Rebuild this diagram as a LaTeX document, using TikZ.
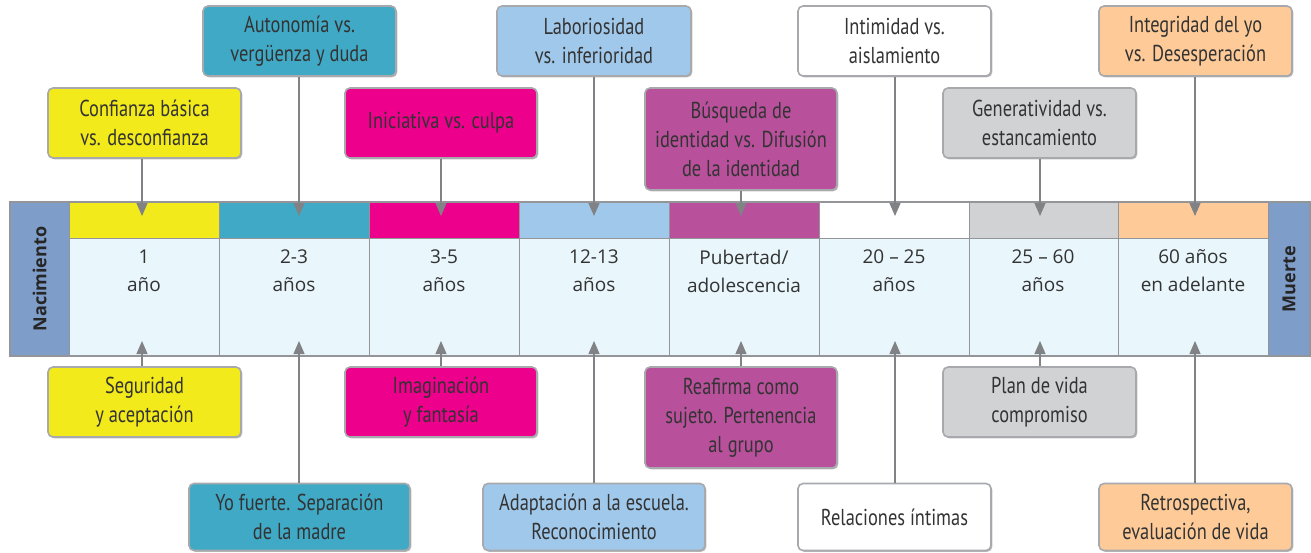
\documentclass[tikz,border=0pt]{standalone}
\usepackage{fontspec}
\setmainfont{PT Sans}
\newfontfamily\boxfont[FakeStretch=0.8]{PT Sans}
\newfontfamily\bandfont{Open Sans}
\usetikzlibrary{arrows.meta,shadows}

\definecolor{yel}{HTML}{F2EA1A}
\definecolor{tea}{HTML}{40A9C6}
\definecolor{mag}{HTML}{EC008C}
\definecolor{lbl}{HTML}{A0C8EA}
\definecolor{pur}{HTML}{B8509B}
\definecolor{gry}{HTML}{D1D2D4}
\definecolor{ora}{HTML}{FECB98}
\definecolor{side}{HTML}{7F9DC9}
\definecolor{bandbg}{HTML}{E9F6FC}
\definecolor{bandline}{HTML}{939598}
\definecolor{boxline}{HTML}{A7A9AC}
\definecolor{arrowgray}{HTML}{808285}
\definecolor{txt}{HTML}{333333}

\tikzset{
  stage/.style={draw=boxline, line width=1.6pt, rounded corners=5pt,
    minimum width=193pt, minimum height=70pt, inner sep=0pt, align=center,
    text=txt, font=\boxfont\fontsize{23}{29}\selectfont,
    drop shadow={shadow xshift=1.3pt, shadow yshift=-1.3pt, fill=black!45, opacity=.6}},
  age/.style={align=center, text=txt, font=\bandfont\fontsize{19}{28}\selectfont},
  endlabel/.style={rotate=90, text=black!85, font=\bandfont\bfseries\fontsize{18}{18}\selectfont},
  link/.style={draw=arrowgray, line width=1.2pt, -{Triangle[length=13pt,width=11pt]}},
}

\begin{document}
\begin{tikzpicture}[x=1pt,y=-1pt]
  \useasboundingbox (0,0) rectangle (1311,552);

  % band
  \fill[bandbg] (69,238) rectangle (1268,356);
  \fill[side] (10,202) rectangle (69,356);
  \fill[side] (1268,202) rectangle (1310,356);
  \fill[yel] (69,202) rectangle (219,238);
  \fill[tea] (219,202) rectangle (369,238);
  \fill[mag] (369,202) rectangle (519,238);
  \fill[lbl] (519,202) rectangle (669,238);
  \fill[pur] (669,202) rectangle (819,238);
  \fill[white] (819,202) rectangle (969,238);
  \fill[gry] (969,202) rectangle (1118,238);
  \fill[ora] (1118,202) rectangle (1268,238);
  \draw[bandline, line width=1pt] (69,238) -- (1268,238);
  \foreach \x in {69,219,369,519,669,819,969,1118,1268}
    \draw[bandline, line width=1pt] (\x,202) -- (\x,356);
  \draw[bandline, line width=1.2pt] (10,202) rectangle (1310,356);

  \node[endlabel] (birth) at (39.5,279) {Nacimiento};
  \node[endlabel] (death) at (1289,279) {Muerte};

  \node[age] (a1) at (144,271) {1\\año};
  \node[age] (a2) at (294,271) {2-3\\años};
  \node[age] (a3) at (444,271) {3-5\\años};
  \node[age] (a4) at (594,271) {12-13\\años};
  \node[age] (a5) at (744,271) {Pubertad/\\adolescencia};
  \node[age] (a6) at (894,271) {20 – 25\\años};
  \node[age] (a7) at (1043,271) {25 – 60\\años};
  \node[age] (a8) at (1193,271) {60 años\\en adelante};

  % arrow tips inside the band
  \coordinate (t1) at (142,216);  \coordinate (b1) at (142,341);
  \coordinate (t2) at (299,216);  \coordinate (b2) at (299,341);
  \coordinate (t3) at (441,216);  \coordinate (b3) at (441,341);
  \coordinate (t4) at (594,216);  \coordinate (b4) at (594,341);
  \coordinate (t5) at (741,216);  \coordinate (b5) at (741,341);
  \coordinate (t6) at (895,216);  \coordinate (b6) at (895,341);
  \coordinate (t7) at (1040,216); \coordinate (b7) at (1040,341);
  \coordinate (t8) at (1195,216); \coordinate (b8) at (1195,341);

  % crises (top)
  \node[stage, fill=yel] (conf) at (144.5,123) {Confianza básica\\vs. desconfianza};
  \node[stage, fill=tea] (auto) at (299.5,41) {Autonomía vs.\\vergüenza y duda};
  \node[stage, fill=mag, minimum width=192pt] (inic) at (441,123) {Iniciativa vs. culpa};
  \node[stage, fill=lbl, minimum width=194pt] (labo) at (594,41) {Laboriosidad\\vs. inferioridad};
  \node[stage, fill=pur, minimum width=192pt, minimum height=102pt] (busq) at (741,139)
    {Búsqueda de\\identidad vs. Difusión\\de la identidad};
  \node[stage, fill=white] (inti) at (894.5,41) {Intimidad vs.\\aislamiento};
  \node[stage, fill=gry] (gene) at (1039.5,123) {Generatividad vs.\\estancamiento};
  \node[stage, fill=ora] (inte) at (1195.5,41) {Integridad del yo\\vs. Desesperación};

  % outcomes (bottom)
  \node[stage, fill=yel] (segu) at (144.5,402) {Seguridad\\y aceptación};
  \node[stage, fill=tea, minimum width=221pt, minimum height=67pt] (yofu) at (299.5,517)
    {Yo fuerte. Separación\\de la madre};
  \node[stage, fill=mag, minimum width=192pt] (imag) at (441,402) {Imaginación\\y fantasía};
  \node[stage, fill=lbl, minimum width=222pt, minimum height=67pt] (adap) at (594,517)
    {Adaptación a la escuela.\\Reconocimiento};
  \node[stage, fill=pur, minimum width=192pt, minimum height=101pt] (reaf) at (741,417.5)
    {Reafirma como\\sujeto. Pertenencia\\al grupo};
  \node[stage, fill=white, minimum height=67pt] (rela) at (894.5,517) {Relaciones íntimas};
  \node[stage, fill=gry] (plan) at (1039.5,402) {Plan de vida\\compromiso};
  \node[stage, fill=ora, minimum height=67pt] (retr) at (1195.5,517)
    {Retrospectiva,\\evaluación de vida};

  % connectors
  \draw[link] (conf.south -| t1) -- (t1);
  \draw[link] (auto.south -| t2) -- (t2);
  \draw[link] (inic.south -| t3) -- (t3);
  \draw[link] (labo.south -| t4) -- (t4);
  \draw[link] (busq.south -| t5) -- (t5);
  \draw[link] (inti.south -| t6) -- (t6);
  \draw[link] (gene.south -| t7) -- (t7);
  \draw[link] (inte.south -| t8) -- (t8);
  \draw[link] (segu.north -| b1) -- (b1);
  \draw[link] (yofu.north -| b2) -- (b2);
  \draw[link] (imag.north -| b3) -- (b3);
  \draw[link] (adap.north -| b4) -- (b4);
  \draw[link] (reaf.north -| b5) -- (b5);
  \draw[link] (rela.north -| b6) -- (b6);
  \draw[link] (plan.north -| b7) -- (b7);
  \draw[link] (retr.north -| b8) -- (b8);
\end{tikzpicture}
\end{document}
